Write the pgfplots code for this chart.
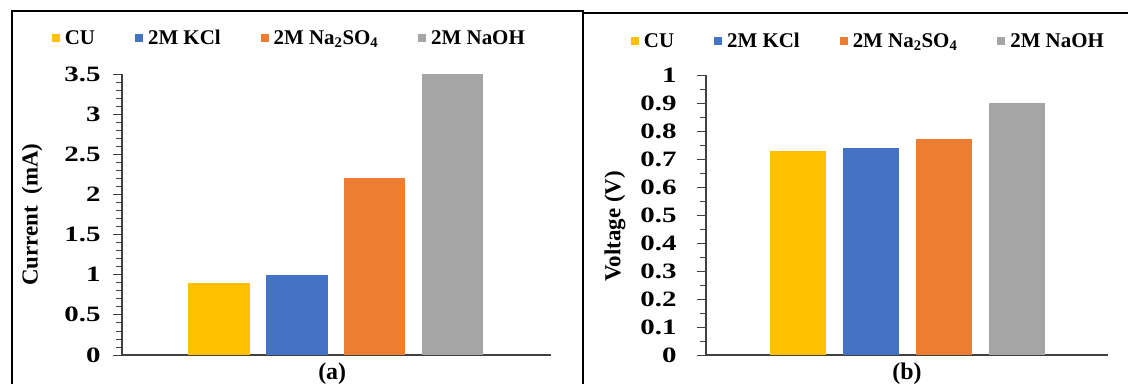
\documentclass[border=0pt]{standalone}
\usepackage{graphicx}
\usepackage{pgfplots}
\pgfplotsset{compat=1.18}
\usepackage{fontspec}
\setmainfont{Liberation Serif}
\definecolor{cCU}{HTML}{FFC000}
\definecolor{cKCl}{HTML}{4472C4}
\definecolor{cNa}{HTML}{ED7D31}
\definecolor{cOH}{HTML}{A5A5A5}
\definecolor{axgray}{HTML}{404040}
\pgfplotsset{
  common/.style={
    scale only axis,
    axis x line*=bottom, axis y line*=left,
    axis line style={axgray, line width=1.2bp},
    xtick=\empty, ymin=0,
    tick align=outside, major tick length=9bp, minor tick length=6bp,
    every tick/.style={axgray, line width=0.8bp},
    /pgf/number format/assume math mode=true,
    yticklabel={\scalebox{1.32}[1]{\pgfmathprintnumber{\tick}}},
    y tick label style={font=\bfseries\fontsize{22}{22}\selectfont},
    ylabel style={font=\bfseries\fontsize{23}{23}\selectfont, anchor=center},
    xlabel style={font=\bfseries\fontsize{24}{24}\selectfont, anchor=center},
    ybar, bar shift=0pt,
    legend columns=4,
    legend style={draw=none, fill=none, font=\bfseries\fontsize{21}{21}\selectfont,
      /tikz/every odd column/.append style={column sep=3bp},
      /tikz/every even column/.append style={column sep=38bp}},
    legend image code/.code={\fill[##1] (0bp,-4bp) rectangle (8bp,4bp);},
  }
}
\begin{document}
\begin{tikzpicture}[x=1bp,y=1bp]
\path[use as bounding box] (0,0) rectangle (1128,383);
\draw[line width=2.5bp] (12,-10) -- (12,372) -- (583,372) -- (583,-10);
\draw[line width=2bp] (583,370) -- (1140,370);
\begin{axis}[common,
  at={(122bp,28bp)}, anchor=south west,
  width=429bp, height=281bp,
  xmin=-0.25, xmax=5.27, ymax=3.5,
  ytick={0,0.5,1,1.5,2,2.5,3,3.5}, minor y tick num=4,
  y tick label style={xshift=-9bp},
  bar width=0.79,
  ylabel={Current\ \ (mA)},
  ylabel style={at={(axis description cs:0,0.5)}, yshift=90bp},
  xlabel={(a)},
  xlabel style={at={(axis description cs:0.49,0)}, yshift=-19bp},
  legend style={at={(axis description cs:0.39,1.128)}, anchor=center},
]
\addplot[fill=cCU, draw=none] coordinates {(1,0.9)};
\addplot[fill=cKCl, draw=none] coordinates {(2,1.0)};
\addplot[fill=cNa, draw=none] coordinates {(3,2.2)};
\addplot[fill=cOH, draw=none] coordinates {(4,3.5)};
\legend{CU, 2M KCl, 2M Na\textsubscript{2}SO\textsubscript{4}, 2M NaOH}
\end{axis}
\begin{axis}[common,
  at={(706bp,28bp)}, anchor=south west,
  width=402bp, height=280bp,
  xmin=-0.26, xmax=5.25, ymax=1,
  ytick={0,0.1,0.2,0.3,0.4,0.5,0.6,0.7,0.8,0.9,1}, minor y tick num=1,
  y tick label style={xshift=-17bp},
  bar width=0.77,
  ylabel={Voltage (V)},
  ylabel style={at={(axis description cs:0,0.46)}, yshift=91bp},
  xlabel={(b)},
  xlabel style={at={(axis description cs:0.5,0)}, yshift=-19bp},
  legend style={at={(axis description cs:0.404,1.121)}, anchor=center},
]
\addplot[fill=cCU, draw=none] coordinates {(1,0.73)};
\addplot[fill=cKCl, draw=none] coordinates {(2,0.74)};
\addplot[fill=cNa, draw=none] coordinates {(3,0.77)};
\addplot[fill=cOH, draw=none] coordinates {(4,0.90)};
\legend{CU, 2M KCl, 2M Na\textsubscript{2}SO\textsubscript{4}, 2M NaOH}
\end{axis}
\end{tikzpicture}
\end{document}
